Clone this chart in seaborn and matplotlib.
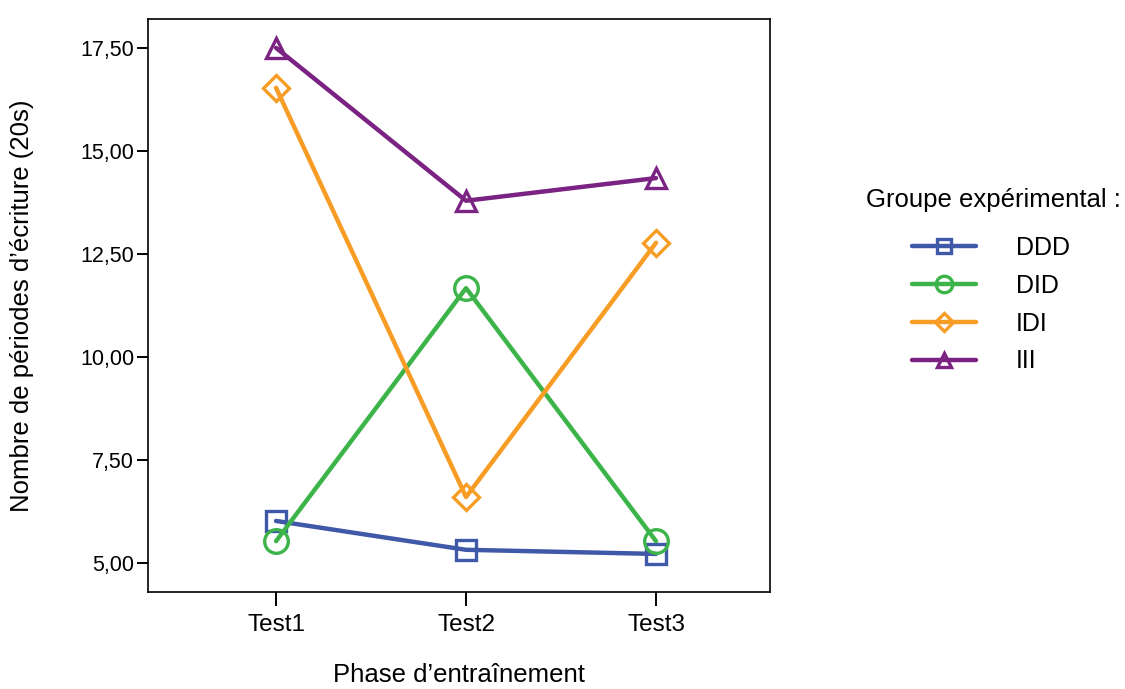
import numpy as np
import pandas as pd
import matplotlib
matplotlib.use("Agg")
import matplotlib.pyplot as plt
import seaborn as sns

sns.set_theme(style="ticks")
plt.rcParams['font.family'] = ['Liberation Sans', 'DejaVu Sans']
plt.rcParams['text.color'] = 'black'
plt.rcParams['axes.labelcolor'] = 'black'

phases = ['Test1', 'Test2', 'Test3']
groupes = ['DDD', 'DID', 'IDI', 'III']
ddd = [6.02, 5.32, 5.22]
did = [5.53, 11.67, 5.53]
idi = [16.53, 6.60, 12.77]
iii = [17.50, 13.79, 14.34]
yticks = [5.0, 7.5, 10.0, 12.5, 15.0, 17.5]
ytick_labels = ['5,00', '7,50', '10,00', '12,50', '15,00', '17,50']

couleurs = ['#3f58a8', '#3cb44a', '#f79d25', '#7a2383']
marqueurs = ['s', 'o', 'D', '^']
tailles = [14, 17, 13, 15]

df = pd.DataFrame({
    'phase': phases * 4,
    'groupe': np.repeat(groupes, 3),
    'valeur': ddd + did + idi + iii,
})

fig = plt.figure(figsize=(11.25, 6.89), dpi=100)
ax = fig.add_axes([148 / 1125, 1 - 592 / 689, (770 - 148) / 1125, (592 - 19) / 689])

for g, c, m, s in zip(groupes, couleurs, marqueurs, tailles):
    sub = df[df['groupe'] == g]
    sns.lineplot(data=sub, x='phase', y='valeur', ax=ax, color=c, marker=m,
                 markersize=s, markerfacecolor='none', markeredgecolor=c,
                 markeredgewidth=2.4, linewidth=3.2, sort=False, label=g)

ax.set_xlim(-0.674, 2.6)
ax.set_ylim(4.296, 18.2)
ax.set_yticks(yticks)
ax.set_yticklabels(ytick_labels)
ax.tick_params(axis='both', direction='out', length=8, width=1.4, colors='black', pad=2)
ax.tick_params(axis='y', labelsize=15.5)
ax.tick_params(axis='x', length=10, pad=6, labelsize=17.5)
for sp in ax.spines.values():
    sp.set_visible(True)
    sp.set_color('black')
    sp.set_linewidth(1.2)

ax.set_xlabel('Phase d’entraînement', fontsize=18.5, labelpad=19)
ax.set_ylabel('Nombre de périodes d’écriture (20s)', fontsize=18.5, labelpad=33)

handles, labels = ax.get_legend_handles_labels()
ax.legend(handles, labels, loc='upper left', bbox_to_anchor=(912 / 1125, 1 - 236 / 689),
          bbox_transform=fig.transFigure, frameon=False, fontsize=18,
          handlelength=2.56, handletextpad=1.6, labelspacing=0.55,
          borderpad=0, borderaxespad=0, markerscale=0.7)
fig.text(866 / 1125, 1 - 200 / 689, 'Groupe expérimental :', fontsize=18.5,
         ha='left', va='center')

fig.savefig('out.png', dpi=100)
